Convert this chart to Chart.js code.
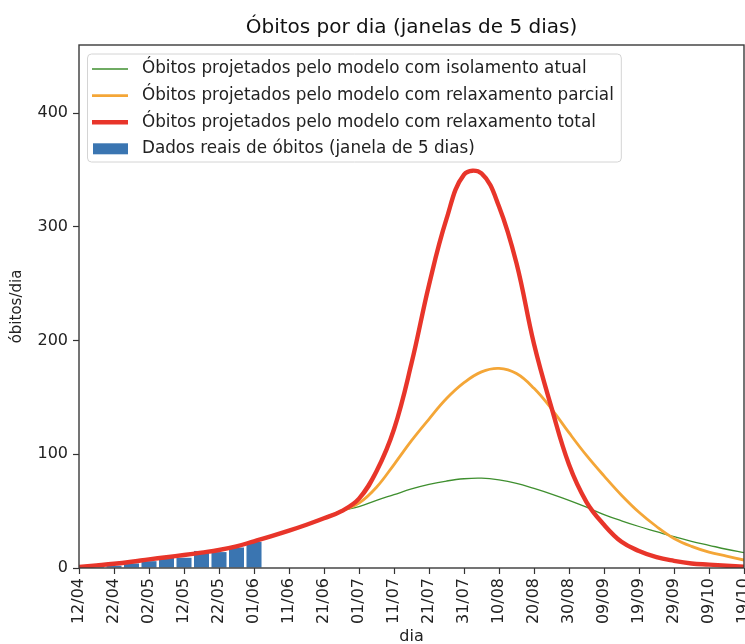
<!DOCTYPE html>
<html lang="pt">
<head>
  <meta charset="UTF-8">
  <title>Óbitos por dia</title>
  <style>
    html, body { margin: 0; padding: 0; background: #fff; overflow: hidden; }
    #wrap { width: 745px; height: 644px; }
  </style>
</head>
<body>

<div id="wrap">
  <canvas id="grafico" width="745" height="644"></canvas>
</div>

<script src="https://cdn.jsdelivr.net/npm/chart.js"></script>
<script>
  // eixo x em dias contados a partir de 12/04
  const rotulosX = ['12/04', '22/04', '02/05', '12/05', '22/05', '01/06', '11/06', '21/06', '01/07', '11/07',
                    '21/07', '31/07', '10/08', '20/08', '30/08', '09/09', '19/09', '29/09', '09/10', '19/10'];

  // dias em que as curvas do modelo foram lidas
  const diasModelo = [0, 5, 10, 15, 20, 25, 30, 35, 40, 45, 50, 55, 60, 65, 70, 75, 80, 85, 90, 95,
                      100, 105, 110, 115, 120, 125, 130, 135, 140, 145, 150, 155, 160, 165, 170, 175, 180, 185, 190];

  const isolamentoAtual = [1, 2.3, 3.7, 5.5, 7.6, 9.5, 11.4, 13.5, 15.8, 19, 23.5, 28, 32.8, 38, 43.7, 50, 54, 59.5, 64.5, 69.5,
                           73.5, 76.5, 78.5, 79, 77.5, 74.5, 70, 65, 59.5, 53.5, 47, 41.5, 36.5, 32, 27.5, 23.5, 20, 16.5, 13.5];

  const relaxamentoParcial = [1, 2.3, 3.7, 5.5, 7.6, 9.5, 11.4, 13.5, 15.8, 19, 23.5, 28, 32.8, 38, 43.7, 50, 57, 71, 91, 112,
                              131, 149, 163, 172.5, 175.5, 171, 158, 140, 119, 99, 81, 64, 49, 36.5, 26, 19, 14, 10.5, 7];

  const relaxamentoTotal = [1, 2.3, 3.7, 5.5, 7.6, 9.5, 11.4, 13.5, 15.8, 19, 23.5, 28, 32.8, 38, 43.7, 50, 61, 85, 122, 180,
                            249, 307, 346, 347, 318, 268, 197, 141, 91, 58, 38, 23, 15, 9.5, 6.3, 4, 3, 2, 1.2];

  // dados reais, janelas de 5 dias
  const diasReais = [5, 10, 15, 20, 25, 30, 35, 40, 45, 50];
  const obitosReais = [1, 2, 4, 6, 10, 9, 15, 14, 18, 23];

  const pontos = (xs, ys) => xs.map((x, i) => ({ x: x, y: ys[i] }));

  const fonte = '"DejaVu Sans", "Liberation Sans", sans-serif';
  Chart.defaults.font.family = fonte;
  Chart.defaults.color = '#222';

  // moldura dos eixos (os quatro lados) e legenda dentro da area do grafico
  const molduraELegenda = {
    id: 'molduraELegenda',
    afterDatasetsDraw(chart) {
      const { ctx, chartArea: a } = chart;
      ctx.save();
      ctx.strokeStyle = '#3a3a3a';
      ctx.lineWidth = 1.4;
      ctx.strokeRect(a.left, a.top, a.right - a.left, a.bottom - a.top);

      ctx.font = '16.8px ' + fonte;
      const sets = chart.data.datasets;
      const maxTexto = Math.max(...sets.map(ds => ctx.measureText(ds.label).width));
      const x0 = a.left + 8, y0 = a.top + 8.5;
      const w = 55 + maxTexto + 7, h = 108;

      ctx.fillStyle = 'rgba(255,255,255,0.85)';
      ctx.strokeStyle = '#d4d4d4';
      ctx.lineWidth = 1;
      ctx.beginPath();
      ctx.roundRect(x0 + 0.5, y0 + 0.5, w, h, 4);
      ctx.fill();
      ctx.stroke();

      ctx.textBaseline = 'middle';
      sets.forEach((ds, i) => {
        const y = y0 + 15.5 + i * 26.6;
        if (ds.type === 'bar') {
          ctx.fillStyle = ds.backgroundColor;
          ctx.fillRect(x0 + 6, y - 5.5, 35, 11);
        } else {
          ctx.strokeStyle = ds.borderColor;
          ctx.lineWidth = ds.borderWidth;
          ctx.beginPath();
          ctx.moveTo(x0 + 5, y);
          ctx.lineTo(x0 + 41, y);
          ctx.stroke();
        }
        ctx.fillStyle = '#222';
        ctx.fillText(ds.label, x0 + 55, y);
      });
      ctx.restore();
    }
  };

  new Chart(document.getElementById('grafico'), {
    type: 'line',
    data: {
      datasets: [{
        label: 'Óbitos projetados pelo modelo com isolamento atual',
        data: pontos(diasModelo, isolamentoAtual),
        borderColor: '#3f8f2f',
        borderWidth: 1.3,
        order: 3
      }, {
        label: 'Óbitos projetados pelo modelo com relaxamento parcial',
        data: pontos(diasModelo, relaxamentoParcial),
        borderColor: '#f4a637',
        borderWidth: 2.8,
        order: 2
      }, {
        label: 'Óbitos projetados pelo modelo com relaxamento total',
        data: pontos(diasModelo, relaxamentoTotal),
        borderColor: '#e8352a',
        borderWidth: 4.4,
        order: 1
      }, {
        type: 'bar',
        label: 'Dados reais de óbitos (janela de 5 dias)',
        data: pontos(diasReais, obitosReais),
        backgroundColor: '#3a75b1',
        barPercentage: 0.86,
        categoryPercentage: 1,
        order: 4
      }]
    },
    options: {
      responsive: false,
      animation: false,
      events: [],
      layout: { padding: { left: 0, right: 1, top: 0, bottom: 0 } },
      elements: {
        point: { radius: 0 },
        line: { tension: 0.4, fill: false }
      },
      plugins: {
        legend: { display: false },
        tooltip: { enabled: false },
        title: {
          display: true,
          text: 'Óbitos por dia (janelas de 5 dias)',
          fullSize: false,
          color: '#111',
          font: { size: 20, weight: 'normal', lineHeight: 1.2 },
          padding: { top: 16, bottom: 5 }
        }
      },
      scales: {
        x: {
          type: 'linear',
          min: 0,
          max: 190,
          offset: false,
          border: { display: false },
          grid: { display: true, drawOnChartArea: false, offset: false, tickLength: 6, tickColor: '#333', tickWidth: 1.2 },
          ticks: {
            stepSize: 10,
            autoSkip: false,
            minRotation: 90,
            maxRotation: 90,
            padding: 4,
            font: { size: 16 },
            callback: v => rotulosX[Math.round(v / 10)]
          },
          title: { display: true, text: 'dia', font: { size: 16, lineHeight: 1 }, padding: { top: 0, bottom: -1 } },
          afterFit: s => { s.height = 76; s.paddingLeft = 0; s.paddingRight = 0; }
        },
        y: {
          min: 0,
          max: 460,
          border: { display: false },
          grid: { display: true, drawOnChartArea: false, tickLength: 6, tickColor: '#333', tickWidth: 1.2 },
          ticks: { stepSize: 100, padding: 5, font: { size: 16 } },
          title: { display: true, text: 'óbitos/dia', font: { size: 15, lineHeight: 1 }, padding: { top: 10, bottom: 0 } },
          afterBuildTicks: s => { s.ticks = s.ticks.filter(t => t.value % 100 === 0); },
          afterFit: s => { s.width = 79; s.paddingTop = 0; s.paddingBottom = 0; }
        }
      }
    },
    plugins: [molduraELegenda]
  });
</script>

</body>
</html>
